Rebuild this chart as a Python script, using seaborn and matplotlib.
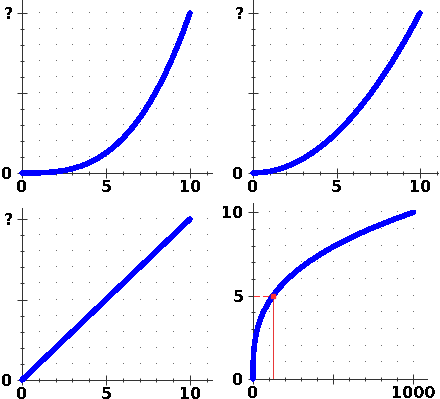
import matplotlib
matplotlib.use("Agg")
import matplotlib.pyplot as plt
import seaborn as sns
import numpy as np

sns.set_style("white")
plt.rcParams['font.family'] = ['DejaVu Sans']
plt.rcParams['text.antialiased'] = False

# ---- data ----
x_half = [0, 0.5, 1, 1.5, 2, 2.5, 3, 3.5, 4, 4.5, 5, 5.5, 6, 6.5, 7, 7.5, 8, 8.5, 9, 9.5, 10]
y_cubic = [0, 0.00125, 0.01, 0.034, 0.08, 0.156, 0.27, 0.429, 0.64, 0.911, 1.25,
           1.664, 2.16, 2.746, 3.43, 4.219, 5.12, 6.141, 7.29, 8.574, 10.0]
y_square = [0, 0.025, 0.1, 0.225, 0.4, 0.625, 0.9, 1.225, 1.6, 2.025, 2.5,
            3.025, 3.6, 4.225, 4.9, 5.625, 6.4, 7.225, 8.1, 9.025, 10.0]
x_lin = [0, 5, 10]
y_lin = [0, 5, 10]
x_root = [0, 0.125, 1, 3.375, 8, 15.625, 27, 42.875, 64, 91.125, 125, 166.375,
          216, 274.625, 343, 421.875, 512, 614.125, 729, 857.375, 1000]
y_root = [0, 0.5, 1, 1.5, 2, 2.5, 3, 3.5, 4, 4.5, 5, 5.5, 6, 6.5, 7, 7.5, 8, 8.5, 9, 9.5, 10]
highlight_x = 125
highlight_y = 5

# tick labels
small_xticks = [0, 5, 10]
small_xlabels = ["0", "5", "10"]
unknown_yticks = [0, 5, 10]
unknown_ylabels = ["0", "", "?"]
root_xticks = [0, 500, 1000]
root_xlabels = ["0", "", "1000"]
root_yticks = [0, 5, 10]
root_ylabels = ["0", "5", "10"]

W, H = 440, 399
fig = plt.figure(figsize=(W / 100, H / 100), dpi=100)

AX_COLOR = "#333333"
BLUE = "#0000ff"
PX = 0.72  # one pixel in points


def make_axes(ox, oy, right, top, xmax, ymax):
    rect = [ox / W, (H - oy) / H, (right - ox) / W, (oy - top) / H]
    ax = fig.add_axes(rect)
    ax.set_xlim(0, xmax)
    ax.set_ylim(0, ymax)
    ax.patch.set_alpha(0)
    for s in ["top", "right"]:
        ax.spines[s].set_visible(False)
    for s in ["left", "bottom"]:
        ax.spines[s].set_color(AX_COLOR)
        ax.spines[s].set_linewidth(PX)
        ax.spines[s].set_antialiased(False)
    return ax


def style_ticks(ax, xmaj, xlab, xminor, ymaj, ylab, yminor):
    ax.set_xticks(xmaj)
    ax.set_xticklabels(xlab)
    ax.set_yticks(ymaj)
    ax.set_yticklabels(ylab)
    ax.set_xticks(xminor, minor=True)
    ax.set_yticks(yminor, minor=True)
    ax.tick_params(which="both", bottom=True, left=True, top=False, right=False)
    ax.tick_params(which="major", direction="inout", length=6.5, width=PX,
                   color=AX_COLOR, labelsize=11.5, pad=1.8)
    ax.tick_params(which="minor", direction="inout", length=3.2, width=PX,
                   color=AX_COLOR)
    ax.tick_params(axis="y", which="major", pad=3.5)
    for lab in ax.get_xticklabels() + ax.get_yticklabels():
        lab.set_fontweight("bold")
        lab.set_color("black")
    gx = [v for v in xminor if v > 0]
    gy = [v for v in yminor if v > 0]
    GX, GY = np.meshgrid(gx, gy)
    ax.plot(GX.ravel(), GY.ravel(), ",", color="#707070", zorder=0)


def curve(ax, xs, ys):
    sns.lineplot(x=xs, y=ys, ax=ax, color=BLUE, linewidth=3.2,
                 estimator=None, sort=False, antialiased=False,
                 zorder=4, clip_on=False)


ints = list(range(0, 12))
ints10 = list(range(0, 11))

ax1 = make_axes(22, 173, 212, 0, 190 / 16.8, 173 / 16.0)
style_ticks(ax1, small_xticks, small_xlabels, ints, unknown_yticks, unknown_ylabels, ints10)
curve(ax1, x_half, y_cubic)

ax2 = make_axes(253, 173, 438, 0, 185 / 16.7, 173 / 16.0)
style_ticks(ax2, small_xticks, small_xlabels, ints, unknown_yticks, unknown_ylabels, ints10)
curve(ax2, x_half, y_square)

ax3 = make_axes(22, 380, 212, 208, 190 / 16.8, 172 / 16.1)
style_ticks(ax3, small_xticks, small_xlabels, ints, unknown_yticks, unknown_ylabels, ints10)
curve(ax3, x_lin, y_lin)

ax4 = make_axes(253, 379, 427, 203, 174 / 0.1603, 176 / 16.67)
style_ticks(ax4, root_xticks, root_xlabels, list(range(0, 1001, 100)),
            root_yticks, root_ylabels, ints10)
ax4.plot([0, highlight_x], [highlight_y, highlight_y], color="#ff3030",
         linewidth=PX, linestyle=(0, (6, 3)), antialiased=False, zorder=1)
ax4.plot([highlight_x, highlight_x], [0, highlight_y], color="#e83838",
         linewidth=PX, antialiased=False, zorder=1)
curve(ax4, x_root, y_root)
ax4.plot([highlight_x], [highlight_y], marker="s", markersize=3,
         color="#ff3030", linestyle="none", zorder=5, antialiased=False)

fig.savefig("out.png", dpi=100)
